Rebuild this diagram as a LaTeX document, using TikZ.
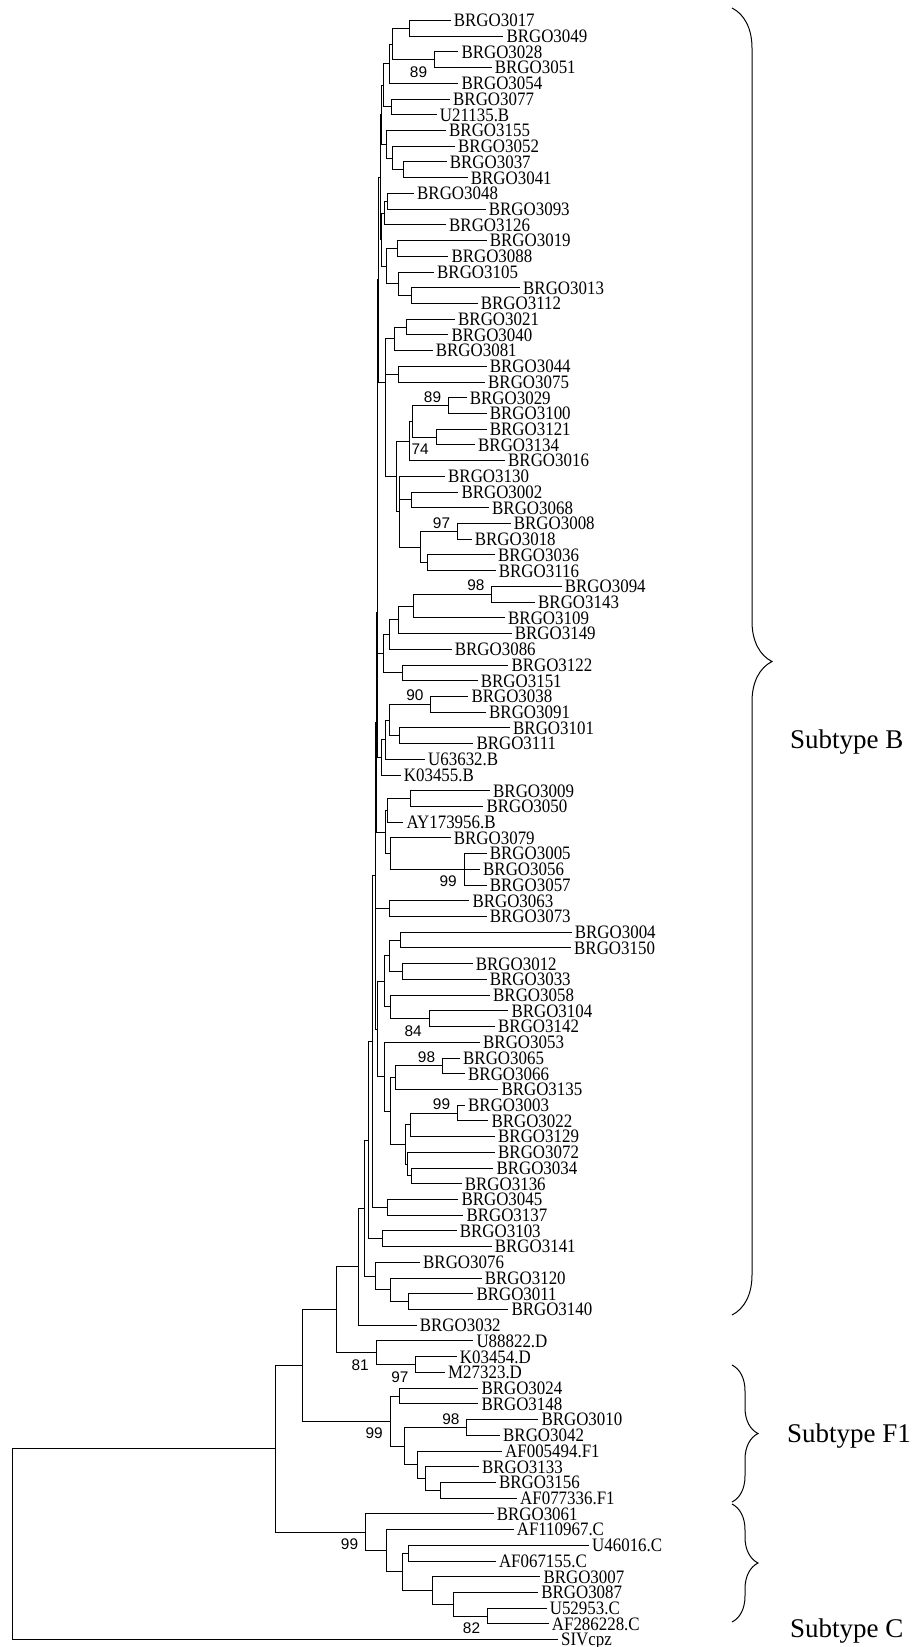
\documentclass[tikz,border=0pt]{standalone}
\usepackage{fontspec}
\setmainfont{Liberation Serif}
\newfontfamily\taxonfont[FakeStretch=0.89]{Liberation Serif}
\newfontfamily\bootfont{Liberation Sans}
\usetikzlibrary{calc,decorations.pathreplacing}

% clade coordinate: name, x, first child, last child
\newcommand\clade[4]{\path let \p1=(#3), \p2=(#4) in coordinate (#1) at (#2pt, {0.5*(\y1+\y2)});}

\begin{document}
\begin{tikzpicture}[x=1pt, y=-1pt,
		branch/.style={draw, line width=1pt},
		taxon/.style={anchor=west, inner xsep=3pt, inner ysep=0pt, text height=12.6pt, text depth=0pt, font=\taxonfont\fontsize{19}{19}\selectfont},
		bootup/.style={anchor=south east, inner sep=0pt, xshift=-7pt, yshift=3pt, font=\bootfont\fontsize{15.4}{15.4}\selectfont},
		bootdown/.style={anchor=north east, inner sep=0pt, xshift=-7pt, yshift=-6.5pt, font=\bootfont\fontsize{15.4}{15.4}\selectfont},
		bracket/.style={draw, line width=1pt, decorate},
		subtype/.style={anchor=west, inner sep=0pt, font=\fontsize{27}{27}\selectfont}]
	
	\useasboundingbox (0,0) rectangle (920,1647);
	
	% Taxa
	\foreach \i/\xe/\lab in {
		1/450.7/BRGO3017, 2/503.3/BRGO3049, 3/458.3/BRGO3028, 4/491.7/BRGO3051,
		5/458.3/BRGO3054, 6/450/BRGO3077, 7/436.7/U21135.B, 8/446/BRGO3155,
		9/455/BRGO3052, 10/446.7/BRGO3037, 11/467.7/BRGO3041, 12/414/BRGO3048,
		13/485.7/BRGO3093, 14/446/BRGO3126, 15/486.7/BRGO3019, 16/448.3/BRGO3088,
		17/434/BRGO3105, 18/520/BRGO3013, 19/477.7/BRGO3112, 20/455/BRGO3021,
		21/448.3/BRGO3040, 22/432.7/BRGO3081, 23/486.7/BRGO3044, 24/485/BRGO3075,
		25/466.7/BRGO3029, 26/486.7/BRGO3100, 27/486.7/BRGO3121, 28/475/BRGO3134,
		29/505/BRGO3016, 30/445/BRGO3130, 31/458.3/BRGO3002, 32/489/BRGO3068,
		33/510.7/BRGO3008, 34/471.7/BRGO3018, 35/495/BRGO3036, 36/495.7/BRGO3116,
		37/561.7/BRGO3094, 38/535/BRGO3143, 39/505/BRGO3109, 40/511.7/BRGO3149,
		41/451.7/BRGO3086, 42/508.3/BRGO3122, 43/477.7/BRGO3151, 44/468.3/BRGO3038,
		45/486/BRGO3091, 46/510/BRGO3101, 47/473.3/BRGO3111, 48/425/U63632.B,
		49/400.7/K03455.B, 50/490/BRGO3009, 51/483.3/BRGO3050, 52/403.3/AY173956.B,
		53/450.7/BRGO3079, 54/486.7/BRGO3005, 55/480/BRGO3056, 56/486.7/BRGO3057,
		57/469.3/BRGO3063, 58/486.7/BRGO3073, 59/571.7/BRGO3004, 60/571/BRGO3150,
		61/472.7/BRGO3012, 62/486.7/BRGO3033, 63/490/BRGO3058, 64/508.3/BRGO3104,
		65/495/BRGO3142, 66/480/BRGO3053, 67/460/BRGO3065, 68/465/BRGO3066,
		69/498.3/BRGO3135, 70/465/BRGO3003, 71/488.3/BRGO3022, 72/495/BRGO3129,
		73/495/BRGO3072, 74/493.3/BRGO3034, 75/461.7/BRGO3136, 76/458.3/BRGO3045,
		77/463.3/BRGO3137, 78/456.7/BRGO3103, 79/491.7/BRGO3141, 80/420/BRGO3076,
		81/481.7/BRGO3120, 82/473.3/BRGO3011, 83/508.3/BRGO3140, 84/416.7/BRGO3032,
		85/473.3/U88822.D, 86/456.7/K03454.D, 87/445/M27323.D, 88/478.3/BRGO3024,
		89/478.3/BRGO3148, 90/538.3/BRGO3010, 91/500/BRGO3042, 92/502/AF005494.F1,
		93/478.8/BRGO3133, 94/495.8/BRGO3156, 95/517/AF077336.F1, 96/493.6/BRGO3061,
		97/513.6/AF110967.C, 98/589/U46016.C, 99/495.8/AF067155.C, 100/540.3/BRGO3007,
		101/538.1/BRGO3087, 102/546.6/U52953.C, 103/548.7/AF286228.C, 104/558/SIVcpz}
		\node[taxon] (t\i) at (\xe, {20.5+(\i-1)*15.72}) {\lab};
	
	% Clades
	\clade{c12}{409.7}{t1}{t2}
	\clade{c34}{434.3}{t3}{t4}
	\clade{c1to4}{392.3}{c12}{c34}
	\clade{c1to5}{389.5}{c1to4}{t5}
	\clade{c67}{391}{t6}{t7}
	\clade{c1to7}{383.3}{c1to5}{c67}
	\clade{c1011}{403.3}{t10}{t11}
	\clade{c9to11}{392.3}{t9}{c1011}
	\clade{c8to11}{386.5}{t8}{c9to11}
	\clade{c1to11}{381}{c1to7}{c8to11}
	\clade{c1213}{387.7}{t12}{t13}
	\clade{c12to14}{384.3}{c1213}{t14}
	\clade{c1516}{397.3}{t15}{t16}
	\clade{c1819}{411.7}{t18}{t19}
	\clade{c17to19}{398.3}{t17}{c1819}
	\clade{c15to19}{386.7}{c1516}{c17to19}
	\clade{c12to19}{381.7}{c12to14}{c15to19}
	\clade{c1to19}{380}{c1to11}{c12to19}
	\clade{c2021}{406.7}{t20}{t21}
	\clade{c20to22}{394.3}{c2021}{t22}
	\clade{c2324}{398.3}{t23}{t24}
	\clade{c2526}{448.3}{t25}{t26}
	\clade{c2728}{436}{t27}{t28}
	\clade{c25to28}{412.7}{c2526}{c2728}
	\clade{c25to29}{409}{c25to28}{t29}
	\clade{c3132}{411.7}{t31}{t32}
	\clade{c3334}{457.3}{t33}{t34}
	\clade{c3536}{427.7}{t35}{t36}
	\clade{c33to36}{420.7}{c3334}{c3536}
	\clade{c30to36}{399.3}{t30}{c33to36}
	\clade{c25to36}{396}{c25to29}{c30to36}
	\clade{c23to36}{385.7}{c2324}{c25to36}
	\clade{c20to36}{385}{c20to22}{c23to36}
	\clade{c1to36}{378.5}{c1to19}{c20to36}
	\clade{c3738}{491.7}{t37}{t38}
	\clade{c37to39}{413.3}{c3738}{t39}
	\clade{c37to40}{398.3}{c37to39}{t40}
	\clade{c37to41}{389.3}{c37to40}{t41}
	\clade{c4243}{402.3}{t42}{t43}
	\clade{c37to43}{383.3}{c37to41}{c4243}
	\clade{c1to43}{377.5}{c1to36}{c37to43}
	\clade{c4445}{430.7}{t44}{t45}
	\clade{c4647}{399}{t46}{t47}
	\clade{c44to47}{389.3}{c4445}{c4647}
	\clade{c44to48}{385.7}{c44to47}{t48}
	\clade{c44to49}{381.7}{c44to48}{t49}
	\clade{c1to49}{377}{c1to43}{c44to49}
	\clade{c5051}{410.7}{t50}{t51}
	\clade{c50to52}{387.3}{c5051}{t52}
	\clade{c54to56}{464}{t54}{t56}
	\clade{c53to56}{390.7}{t53}{c54to56}
	\clade{c50to56}{385}{c50to52}{c53to56}
	\clade{c1to56}{376.5}{c1to49}{c50to56}
	\clade{c5758}{389}{t57}{t58}
	\clade{c5960}{400.7}{t59}{t60}
	\clade{c6162}{402.7}{t61}{t62}
	\clade{c59to62}{389}{c5960}{c6162}
	\clade{c6465}{429}{t64}{t65}
	\clade{c63to65}{390.7}{t63}{c6465}
	\clade{c59to65}{384}{c59to62}{c63to65}
	\clade{c6768}{442.3}{t67}{t68}
	\clade{c67to69}{395}{c6768}{t69}
	\clade{c7071}{457.3}{t70}{t71}
	\clade{c70to72}{410}{c7071}{t72}
	\clade{c7475}{411.7}{t74}{t75}
	\clade{c73to75}{407.7}{t73}{c7475}
	\clade{c70to75}{405.7}{c70to72}{c73to75}
	\clade{c67to75}{390.7}{c67to69}{c70to75}
	\clade{c66to75}{384}{t66}{c67to75}
	\clade{c59to75}{377.3}{c59to65}{c66to75}
	\clade{c1to75}{375.5}{c1to56}{c59to75}
	\clade{c7677}{387.3}{t76}{t77}
	\clade{c1to77}{372.3}{c1to75}{c7677}
	\clade{c7879}{382.7}{t78}{t79}
	\clade{c1to79}{368.3}{c1to77}{c7879}
	\clade{c8283}{408.3}{t82}{t83}
	\clade{c81to83}{390.7}{t81}{c8283}
	\clade{c80to83}{375}{t80}{c81to83}
	\clade{c1to83}{364.3}{c1to79}{c80to83}
	\clade{cB}{358.3}{c1to83}{t84}
	\clade{c8687}{415.7}{t86}{t87}
	\clade{cD}{376}{t85}{c8687}
	\clade{cBD}{336.7}{cB}{cD}
	\clade{c8889}{399}{t88}{t89}
	\clade{c9091}{466.7}{t90}{t91}
	\clade{c9495}{440.7}{t94}{t95}
	\clade{c93to95}{425}{t93}{c9495}
	\clade{c92to95}{417}{t92}{c93to95}
	\clade{c90to95}{404}{c9091}{c92to95}
	\clade{cF}{390}{c8889}{c90to95}
	\clade{cBDF}{302.3}{cBD}{cF}
	\clade{c9899}{408}{t98}{t99}
	\clade{c102103}{487.3}{t102}{t103}
	\clade{c101to103}{453.4}{t101}{c102103}
	\clade{c100to103}{432.2}{t100}{c101to103}
	\clade{c98to103}{402.1}{c9899}{c100to103}
	\clade{c97to103}{386.9}{t97}{c98to103}
	\clade{cC}{365.3}{t96}{c97to103}
	\clade{cHIV}{275}{cBDF}{cC}
	\clade{root}{12.7}{cHIV}{t104}
	
	% Branches
	\foreach \p/\c in {c12/t1, c12/t2, c34/t3, c34/t4, c1to4/c12, c1to4/c34, c1to5/c1to4, c1to5/t5,
		c67/t6, c67/t7, c1to7/c1to5, c1to7/c67, c1011/t10, c1011/t11, c9to11/t9, c9to11/c1011,
		c8to11/t8, c8to11/c9to11, c1to11/c1to7, c1to11/c8to11, c1213/t12, c1213/t13,
		c12to14/c1213, c12to14/t14, c1516/t15, c1516/t16, c1819/t18, c1819/t19,
		c17to19/t17, c17to19/c1819, c15to19/c1516, c15to19/c17to19, c12to19/c12to14,
		c12to19/c15to19, c1to19/c1to11, c1to19/c12to19,
		c2021/t20, c2021/t21, c20to22/c2021, c20to22/t22, c2324/t23, c2324/t24,
		c2526/t25, c2526/t26, c2728/t27, c2728/t28, c25to28/c2526, c25to28/c2728,
		c25to29/c25to28, c25to29/t29, c3132/t31, c3132/t32, c3334/t33, c3334/t34,
		c3536/t35, c3536/t36, c33to36/c3334, c33to36/c3536, c30to36/t30, c30to36/c3132,
		c30to36/c33to36, c25to36/c25to29, c25to36/c30to36, c23to36/c2324, c23to36/c25to36,
		c20to36/c20to22, c20to36/c23to36, c1to36/c1to19, c1to36/c20to36,
		c3738/t37, c3738/t38, c37to39/c3738, c37to39/t39, c37to40/c37to39, c37to40/t40,
		c37to41/c37to40, c37to41/t41, c4243/t42, c4243/t43, c37to43/c37to41, c37to43/c4243,
		c1to43/c1to36, c1to43/c37to43,
		c4445/t44, c4445/t45, c4647/t46, c4647/t47, c44to47/c4445, c44to47/c4647,
		c44to48/c44to47, c44to48/t48, c44to49/c44to48, c44to49/t49, c1to49/c1to43, c1to49/c44to49,
		c5051/t50, c5051/t51, c50to52/c5051, c50to52/t52, c54to56/t54, c54to56/t55, c54to56/t56,
		c53to56/t53, c53to56/c54to56, c50to56/c50to52, c50to56/c53to56, c1to56/c1to49, c1to56/c50to56,
		c5758/t57, c5758/t58,
		c5960/t59, c5960/t60, c6162/t61, c6162/t62, c59to62/c5960, c59to62/c6162,
		c6465/t64, c6465/t65, c63to65/t63, c63to65/c6465, c59to65/c59to62, c59to65/c63to65,
		c6768/t67, c6768/t68, c67to69/c6768, c67to69/t69, c7071/t70, c7071/t71,
		c70to72/c7071, c70to72/t72, c7475/t74, c7475/t75, c73to75/t73, c73to75/c7475,
		c70to75/c70to72, c70to75/c73to75, c67to75/c67to69, c67to75/c70to75,
		c66to75/t66, c66to75/c67to75, c59to75/c59to65, c59to75/c66to75,
		c1to75/c1to56, c1to75/c5758, c1to75/c59to75,
		c7677/t76, c7677/t77, c1to77/c1to75, c1to77/c7677, c7879/t78, c7879/t79,
		c1to79/c1to77, c1to79/c7879, c8283/t82, c8283/t83, c81to83/t81, c81to83/c8283,
		c80to83/t80, c80to83/c81to83, c1to83/c1to79, c1to83/c80to83, cB/c1to83, cB/t84,
		c8687/t86, c8687/t87, cD/t85, cD/c8687, cBD/cB, cBD/cD,
		c8889/t88, c8889/t89, c9091/t90, c9091/t91, c9495/t94, c9495/t95,
		c93to95/t93, c93to95/c9495, c92to95/t92, c92to95/c93to95, c90to95/c9091,
		c90to95/c92to95, cF/c8889, cF/c90to95, cBDF/cBD, cBDF/cF,
		c9899/t98, c9899/t99, c102103/t102, c102103/t103, c101to103/t101,
		c101to103/c102103, c100to103/t100, c100to103/c101to103, c98to103/c9899,
		c98to103/c100to103, c97to103/t97, c97to103/c98to103, cC/t96, cC/c97to103,
		cHIV/cBDF, cHIV/cC, root/cHIV, root/t104}
		\draw[branch] (\p) |- (\c);
	
	% Bootstrap values
	\node[bootdown] (bs1) at (c34) {89};
	\node[bootup] (bs2) at (c2526) {89};
	\node[bootdown] (bs3) at (c2728) {74};
	\node[bootup] (bs4) at (c3334) {97};
	\node[bootup] (bs5) at (c3738) {98};
	\node[bootup] (bs6) at (c4445) {90};
	\node[bootdown] (bs7) at (c54to56) {99};
	\node[bootdown] (bs8) at (c6465) {84};
	\node[bootup] (bs9) at (c6768) {98};
	\node[bootup] (bs10) at (c7071) {99};
	\node[bootdown] (bs11) at (cD) {81};
	\node[bootdown] (bs12) at (c8687) {97};
	\node[bootdown] (bs13) at (cF) {99};
	\node[bootup] (bs14) at (c9091) {98};
	\node[bootdown] (bs15) at (cC) {99};
	\node[bootdown] (bs16) at (c102103) {82};
	
	% Subtypes
	\draw[bracket, decoration={brace, amplitude=40pt}] (732,8) -- (732,1315);
	\draw[bracket, decoration={brace, amplitude=26pt}] (732,1365) -- (732,1502);
	\draw[bracket, decoration={brace, amplitude=26pt}] (732,1504) -- (732,1622);
	\node[subtype] (subB) at (790,742) {Subtype B};
	\node[subtype] (subF) at (787,1436) {Subtype F1};
	\node[subtype] (subC) at (790,1631) {Subtype C};
	
\end{tikzpicture}
\end{document}
